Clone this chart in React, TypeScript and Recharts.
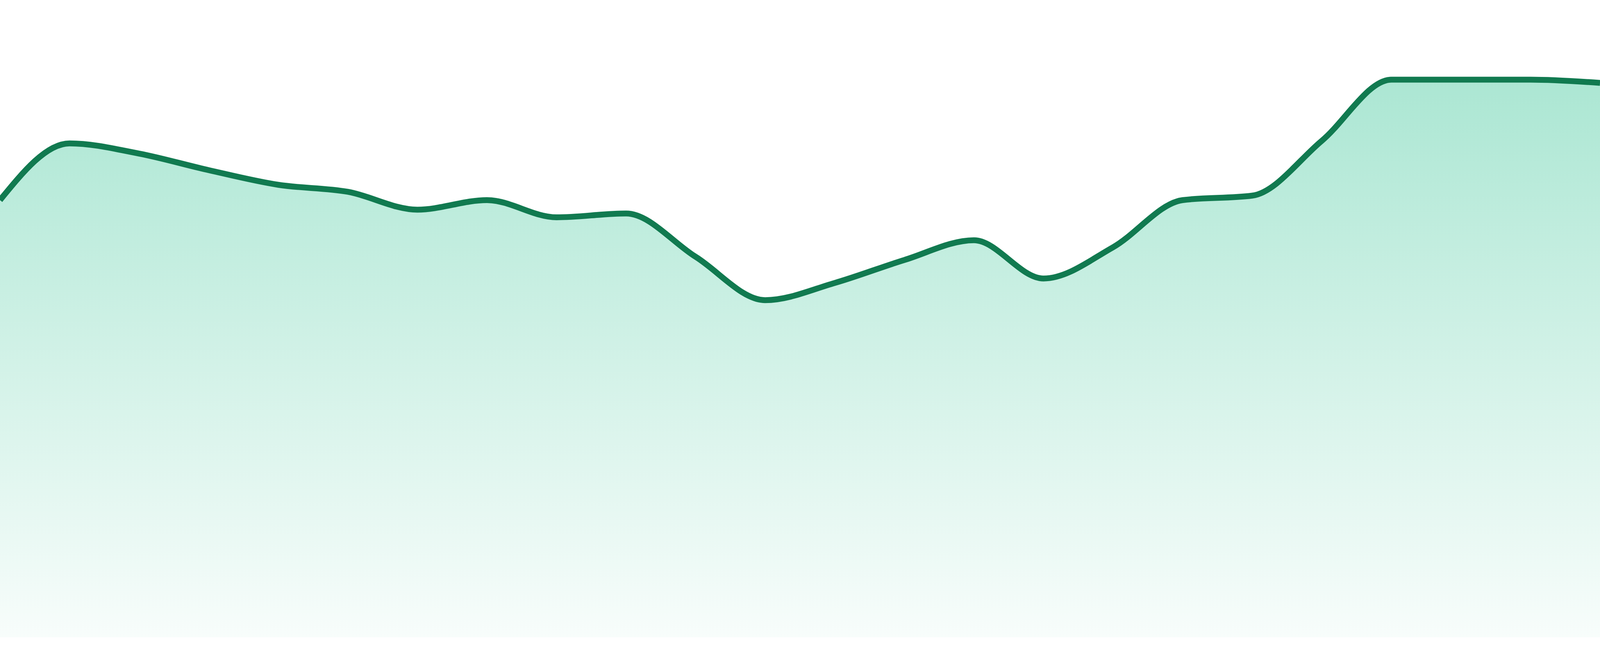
import React from "react";
import { AreaChart, Area, XAxis, YAxis } from "recharts";

const categories = [
  "P1", "P2", "P3", "P4", "P5", "P6", "P7", "P8", "P9", "P10", "P11", "P12",
  "P13", "P14", "P15", "P16", "P17", "P18", "P19", "P20", "P21", "P22", "P23", "P24",
];

const values = [
  68.6, 77.5, 75.9, 73.3, 71.0, 69.9, 67.1, 68.6, 65.9, 66.5, 59.7, 52.9,
  55.6, 59.2, 62.3, 56.3, 61.2, 68.6, 69.3, 77.9, 87.5, 87.5, 87.5, 87.0,
];

const yDomain = [0, 100];

const data = categories.map((name, i) => ({ name, value: values[i] }));

export default function App() {
  const vw = typeof window !== "undefined" ? Math.min(window.innerWidth, 4800) : 4800;
  const vh = 1680;
  return (
    <div
      style={{
        position: "fixed",
        left: 0,
        top: 0,
        width: vw,
        height: vh,
        background: "#ffffff",
      }}
    >
      <AreaChart
        width={vw}
        height={vh}
        data={data}
        margin={{ top: 0, right: 0, bottom: 48, left: 0 }}
      >
        <defs>
          <linearGradient id="areaFill" x1="0" y1="0" x2="0" y2="1">
            <stop offset="0%" stopColor="#10b981" stopOpacity={0.35} />
            <stop offset="100%" stopColor="#10b981" stopOpacity={0.03} />
          </linearGradient>
        </defs>
        <XAxis dataKey="name" hide />
        <YAxis hide domain={yDomain} />
        <Area
          type="monotone"
          dataKey="value"
          stroke="#117a50"
          strokeWidth={15}
          fill="url(#areaFill)"
          fillOpacity={1}
          dot={false}
          activeDot={false}
          isAnimationActive={false}
        />
      </AreaChart>
    </div>
  );
}
